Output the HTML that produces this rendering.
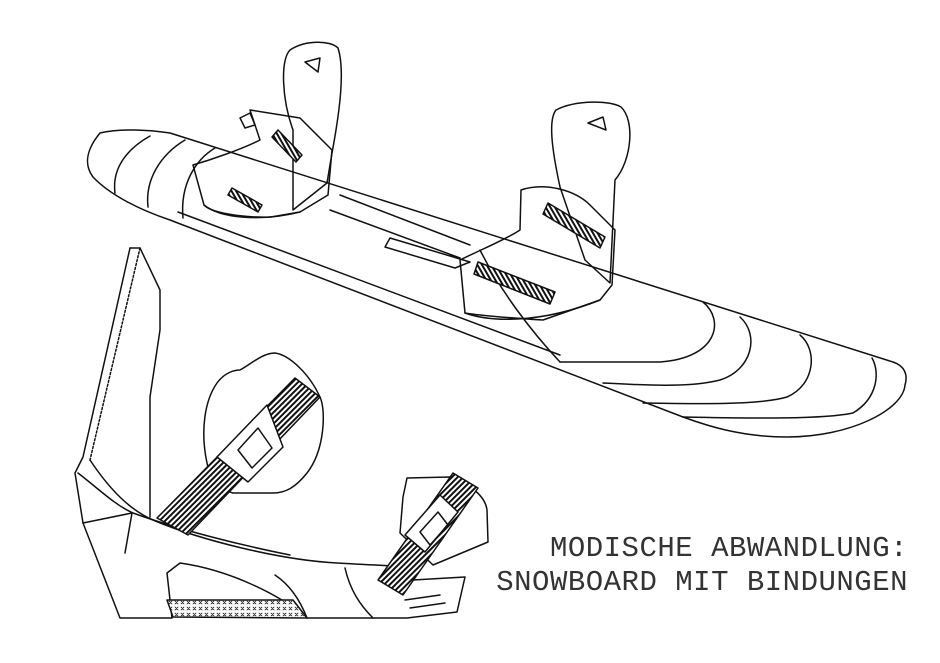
<!DOCTYPE html>
<html><head><meta charset="utf-8"><style>
html,body{margin:0;padding:0;background:#fff;width:940px;height:663px;overflow:hidden}
.cap{position:absolute;right:32px;font-family:"Liberation Mono",monospace;font-size:29px;color:#333;letter-spacing:0.5px;white-space:nowrap}
</style></head><body>
<svg width="940" height="663" style="position:absolute;left:0;top:0" fill="none" stroke="#111" stroke-width="1.5" stroke-linejoin="round" stroke-linecap="round">
<defs>
<pattern id="st1" width="4" height="4" patternUnits="userSpaceOnUse" patternTransform="rotate(45)"><rect width="4" height="4" fill="#fff" stroke="none"/><rect width="2" height="4" fill="#111" stroke="none"/></pattern>
<pattern id="st2" width="4" height="4" patternUnits="userSpaceOnUse" patternTransform="rotate(-30)"><rect width="4" height="4" fill="#fff" stroke="none"/><rect width="2" height="4" fill="#111" stroke="none"/></pattern>
<pattern id="xx" width="6" height="6" patternUnits="userSpaceOnUse"><rect width="6" height="6" fill="#fff" stroke="none"/><path d="M1,1 L4,4 M4,1 L1,4" stroke="#111" stroke-width="0.8"/></pattern>
</defs>
<!-- snowboard -->
<path d="M100,133 C120,128 150,130 170,133 L893,362 C905,366 908,375 905,385 C903,410 850,437 787,437 C740,437 705,425 683,417 L170,220 C140,210 110,195 93,177 C84,165 86,150 100,133 Z"/>
<path d="M178,212 L560,355"/>
<path d="M150,136 C125,150 112,170 115,193"/>
<path d="M185,140 C160,155 145,180 148,207"/>
<path d="M215,148 C195,160 180,185 183,218"/>
<path d="M703,302 C725,320 718,358 660,362 L560,362"/>
<path d="M740,317 C760,335 752,370 720,380 C690,388 640,385 603,383"/>
<path d="M800,335 C818,350 815,385 787,397 C760,405 700,404 643,403"/>
<path d="M872,358 C880,372 878,398 853,413 C820,420 740,418 683,417"/>
<path d="M480,250 C500,290 530,330 560,362"/>
<path d="M340,195 L470,245 M330,210 L460,258 M390,238 L470,262 L455,268 L385,247 Z"/>
<!-- rear binding -->
<path d="M293,130 C282,100 280,60 290,50 C305,40 330,40 338,48 C345,70 340,110 332,153 L327,183 L293,210 Z"/>
<path d="M305,62 L320,58 L318,72 Z"/>
<path d="M250,110 L300,118 L332,150 L328,195 L300,212 L271,217 C240,218 210,212 204,205 L193,165 C210,160 240,150 260,140 Z"/>
<path d="M278,130 L302,155 L296,162 L272,137 Z" fill="url(#st2)"/>
<path d="M240,118 L250,113 L255,125 L245,128 Z"/>
<path d="M232,188 L262,205 L258,212 L228,195 Z" fill="url(#st2)"/>
<path d="M204,205 C220,218 260,222 300,212"/>
<!-- front binding -->
<path d="M560,187 C552,150 548,120 556,110 C575,100 610,100 621,107 C635,120 632,160 615,180 L610,283 L585,260 Z"/>
<path d="M588,123 L603,117 L606,130 Z"/>
<path d="M521,190 C545,182 575,190 590,205 L615,230 L612,285 L600,300 L543,320 C510,318 475,315 465,313 L460,260 C480,250 505,240 520,230 Z"/>
<path d="M548,203 L605,237 L600,248 L543,214 Z" fill="url(#st2)"/>
<path d="M478,262 L555,292 L550,304 L474,274 Z" fill="url(#st2)"/>
<path d="M465,313 C490,322 540,324 600,300"/>
<!-- large binding side view -->
<path d="M130,248 L140,248 L160,290 L160,330 L150,397 L150,517"/>
<path d="M130,248 L83,457 L75,473 L83,523 L120,618 L172,618 L167,573 L180,563 C230,570 280,595 307,618 L407,618 L457,612 L465,577 L413,580"/>
<path d="M140,248 L90,460" stroke-dasharray="2 2"/>
<path d="M90,460 C110,490 130,510 153,520 C200,540 280,560 337,563 C370,565 400,566 413,567"/>
<path d="M78,473 C100,490 115,505 133,513 C180,530 240,545 290,555"/>
<path d="M83,523 L132,513 L125,553"/>
<path d="M307,618 C300,600 290,585 275,575"/>
<path d="M345,568 C350,590 360,605 373,618"/>
<path d="M167,600 L293,600 L307,618 L173,617 Z" fill="url(#xx)"/>
<path d="M207,463 C200,430 205,400 217,383 C225,372 235,370 240,370 C250,365 262,353 275,353 C290,355 310,375 320,397 C326,410 325,450 307,473 C295,488 285,493 273,493 L233,493 C220,490 210,480 207,463 Z"/>
<path d="M157,518 L295,378 L320,397 L188,535 Z" fill="url(#st1)"/>
<path d="M217,457 L267,405 L283,447 L248,482 Z" fill="#fff"/>
<path d="M238,450 L258,428 L272,448 L252,468 Z"/>
<path d="M407,478 L450,477 C470,485 485,495 487,510 L488,542 L433,565 L400,533 L403,497 Z"/>
<path d="M378,580 L453,473 L478,488 L403,595 Z" fill="url(#st1)"/>
<path d="M405,535 L440,495 L458,512 L425,552 Z" fill="#fff"/>
<path d="M420,532 L438,512 L448,525 L430,545 Z"/>
<path d="M405,600 L440,595 M410,608 L445,603"/>
</svg>
<div class="cap" style="top:532px">MODISCHE ABWANDLUNG:</div>
<div class="cap" style="top:566px">SNOWBOARD MIT BINDUNGEN</div>
</body></html>
